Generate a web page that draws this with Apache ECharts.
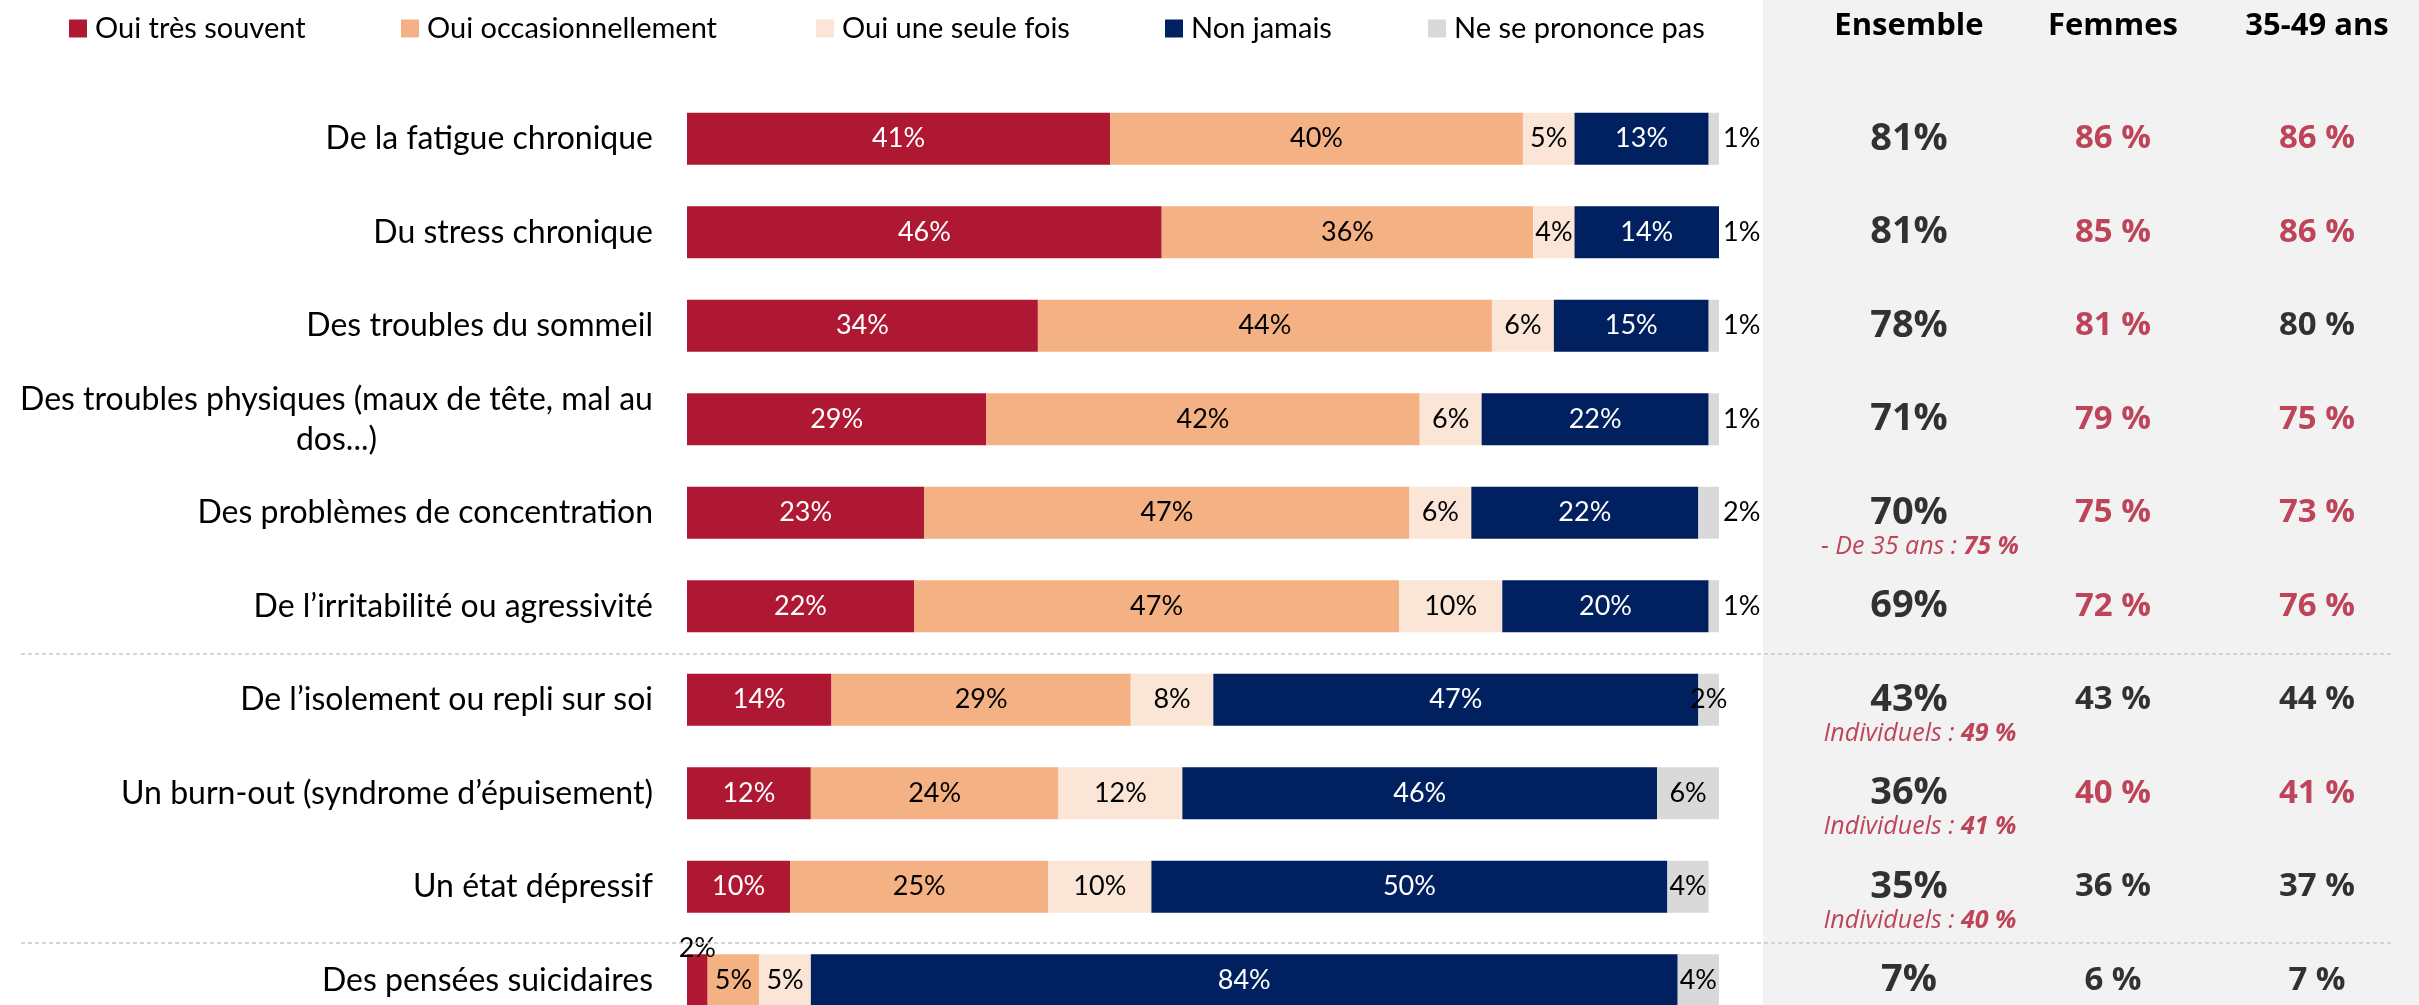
<!DOCTYPE html>
<html>
<head>
<meta charset="utf-8">
<script src="https://cdn.jsdelivr.net/npm/echarts@6/dist/echarts.min.js"></script>
<style>
  html, body { margin: 0; padding: 0; background: #fff; overflow: hidden; }
  #wrap { width: 2419px; height: 1005px; overflow: hidden; }
  /* last row is cut by the bottom edge, so the canvas is a bit taller than the window */
  #main { width: 2419px; height: 1040px; }
</style>
</head>
<body>
<div id="wrap"><div id="main"></div></div>
<script type="text/javascript">
// categories (top to bottom)
var categories = [
  'De la fatigue chronique',
  'Du stress chronique',
  'Des troubles du sommeil',
  'Des troubles physiques (maux de tête, mal au\ndos...)',
  'Des problèmes de concentration',
  'De l\u2019irritabilité ou agressivité',
  'De l\u2019isolement ou repli sur soi',
  'Un burn-out (syndrome d\u2019épuisement)',
  'Un état dépressif',
  'Des pensées suicidaires'
];

// bar values (%)
var tresSouvent       = [41, 46, 34, 29, 23, 22, 14, 12, 10, 2];
var occasionnellement = [40, 36, 44, 42, 47, 47, 29, 24, 25, 5];
var seuleFois         = [5, 4, 6, 6, 6, 10, 8, 12, 10, 5];
var nonJamais         = [13, 14, 15, 22, 22, 20, 47, 46, 50, 84];
var nsp               = [1, 1, 1, 1, 2, 1, 2, 6, 4, 4];

// right panel
var columns  = ['Ensemble', 'Femmes', '35-49 ans'];
var ensemble = [81, 81, 78, 71, 70, 69, 43, 36, 35, 7];
var femmes   = [86, 85, 81, 79, 75, 72, 43, 40, 36, 6];
var age3549  = [86, 86, 80, 75, 73, 76, 44, 41, 37, 7];
var femmesRouge = [1, 1, 1, 1, 1, 1, 0, 1, 0, 0];
var ageRouge    = [1, 1, 0, 1, 1, 1, 0, 1, 0, 0];
var sousTitres  = [null, null, null, null, ['- De 35 ans : ', '75 %'], null,
                   ['Individuels : ', '49 %'], ['Individuels : ', '41 %'], ['Individuels : ', '40 %'], null];

var ROUGE = '#AF1832';
var FONT = 'Lato';
var CAT_SIZE = 32;

var myChart = echarts.init(document.getElementById('main'));

// width of the longest line of the wrapped label, to center the short line under it
var ctx = document.createElement('canvas').getContext('2d');
ctx.font = CAT_SIZE + 'px ' + FONT;
var wrapWidth = 0;
categories.forEach(function (c) {
  if (c.indexOf('\n') >= 0) {
    c.split('\n').forEach(function (l) { wrapWidth = Math.max(wrapWidth, Math.ceil(ctx.measureText(l).width)); });
  }
});

function barSeries(name, values, color, txt, labelFix) {
  return {
    name: name,
    type: 'bar',
    stack: 'total',
    barWidth: 52,
    xAxisIndex: 0,
    yAxisIndex: 0,
    itemStyle: { color: color },
    label: {
      show: true,
      position: 'inside',
      color: txt,
      fontFamily: FONT,
      fontSize: 27,
      formatter: function (p) { return p.value + '%'; }
    },
    data: values.map(function (v, i) {
      var item = { value: v };
      if (labelFix) {
        var l = labelFix(i);
        if (l) item.label = l;
      }
      return item;
    })
  };
}

function colonne(col, values, rouge, size, withSpace) {
  return {
    type: 'scatter',
    xAxisIndex: 1,
    yAxisIndex: 1,
    symbolSize: 0,
    itemStyle: { color: 'transparent' },
    label: {
      show: true,
      position: 'inside',
      fontFamily: 'Open Sans',
      fontWeight: 'bold',
      fontSize: size,
      formatter: function (p) { return values[p.dataIndex] + (withSpace ? ' %' : '%'); }
    },
    data: values.map(function (v, i) {
      return {
        value: [col, categories[i]],
        label: { color: rouge && rouge[i] ? ROUGE : '#000' }
      };
    })
  };
}

var sousData = [];
sousTitres.forEach(function (s, i) {
  if (s) sousData.push({ value: ['Ensemble', categories[i]], txt: s });
});

var legendNames = ['Oui très souvent', 'Oui occasionnellement', 'Oui une seule fois', 'Non jamais', 'Ne se prononce pas'];
var legendLeft = [69, 401, 816, 1165, 1428];

var option = {
  backgroundColor: '#fff',
  animation: false,
  legend: legendNames.map(function (n, i) {
    return {
      data: [n],
      left: legendLeft[i],
      top: 14,
      icon: 'rect',
      itemWidth: 18,
      itemHeight: 18,
      padding: 0,
      textStyle: { fontFamily: FONT, fontSize: 29, color: '#000', padding: [0, 0, 0, 3] }
    };
  }),
  graphic: [
    { type: 'rect', z: -10, shape: { x: 1763, y: 0, width: 656, height: 1040 }, style: { fill: '#F2F2F2' } },
    { type: 'line', z: 10, shape: { x1: 21, y1: 654, x2: 2392, y2: 654 }, style: { stroke: '#C8C8C8', lineWidth: 1.5, lineDash: [4, 3] } },
    { type: 'line', z: 10, shape: { x1: 21, y1: 943, x2: 2392, y2: 943 }, style: { stroke: '#C8C8C8', lineWidth: 1.5, lineDash: [4, 3] } }
  ],
  grid: [
    { left: 687, width: 1032, top: 92, height: 935 },
    { left: 1807, width: 615, top: 92, height: 935 }
  ],
  xAxis: [
    { type: 'value', gridIndex: 0, min: 0, max: 100, show: false },
    {
      type: 'category', gridIndex: 1, position: 'top', data: columns,
      axisLine: { show: false }, axisTick: { show: false }, splitLine: { show: false },
      axisLabel: { margin: 50, fontFamily: 'Open Sans', fontWeight: 'bold', fontSize: 31, color: '#000' }
    }
  ],
  yAxis: [
    {
      type: 'category', gridIndex: 0, inverse: true, data: categories,
      axisLine: { show: false }, axisTick: { show: false },
      axisLabel: {
        margin: 34,
        fontFamily: FONT,
        fontSize: CAT_SIZE,
        color: '#000',
        lineHeight: 40,
        formatter: function (v) {
          if (v.indexOf('\n') < 0) return v;
          return v.split('\n').map(function (l) { return '{c|' + l + '}'; }).join('\n');
        },
        rich: { c: { width: wrapWidth, align: 'center', fontFamily: FONT, fontSize: CAT_SIZE, lineHeight: 40, color: '#000' } }
      }
    },
    { type: 'category', gridIndex: 1, inverse: true, data: categories, show: false }
  ],
  series: [
    barSeries('Oui très souvent', tresSouvent, ROUGE, '#fff', function (i) {
      if (tresSouvent[i] < 3) return { position: 'top', distance: -8, color: '#000' };
    }),
    barSeries('Oui occasionnellement', occasionnellement, '#F4B183', '#000'),
    barSeries('Oui une seule fois', seuleFois, '#FBE5D6', '#000'),
    barSeries('Non jamais', nonJamais, '#002060', '#fff'),
    barSeries('Ne se prononce pas', nsp, '#D9D9D9', '#000', function (i) {
      if (i < 6) return { position: 'right', distance: 4 };
    }),
    colonne('Ensemble', ensemble, null, 38, false),
    colonne('Femmes', femmes, femmesRouge, 33, true),
    colonne('35-49 ans', age3549, ageRouge, 33, true),
    {
      type: 'scatter',
      xAxisIndex: 1,
      yAxisIndex: 1,
      symbolSize: 0,
      itemStyle: { color: 'transparent' },
      label: {
        show: true,
        position: 'inside',
        offset: [11, 34],
        fontFamily: 'Open Sans',
        fontStyle: 'italic',
        fontSize: 25,
        color: ROUGE,
        formatter: function (p) {
          var s = p.data.txt;
          return '{a|' + s[0] + '}{b|' + s[1] + '}';
        },
        rich: {
          a: { fontFamily: 'Open Sans', fontStyle: 'italic', fontSize: 25, color: ROUGE },
          b: { fontFamily: 'Open Sans', fontStyle: 'italic', fontWeight: 'bold', fontSize: 25, color: ROUGE }
        }
      },
      data: sousData
    }
  ]
};

myChart.setOption(option);
</script>
</body>
</html>
